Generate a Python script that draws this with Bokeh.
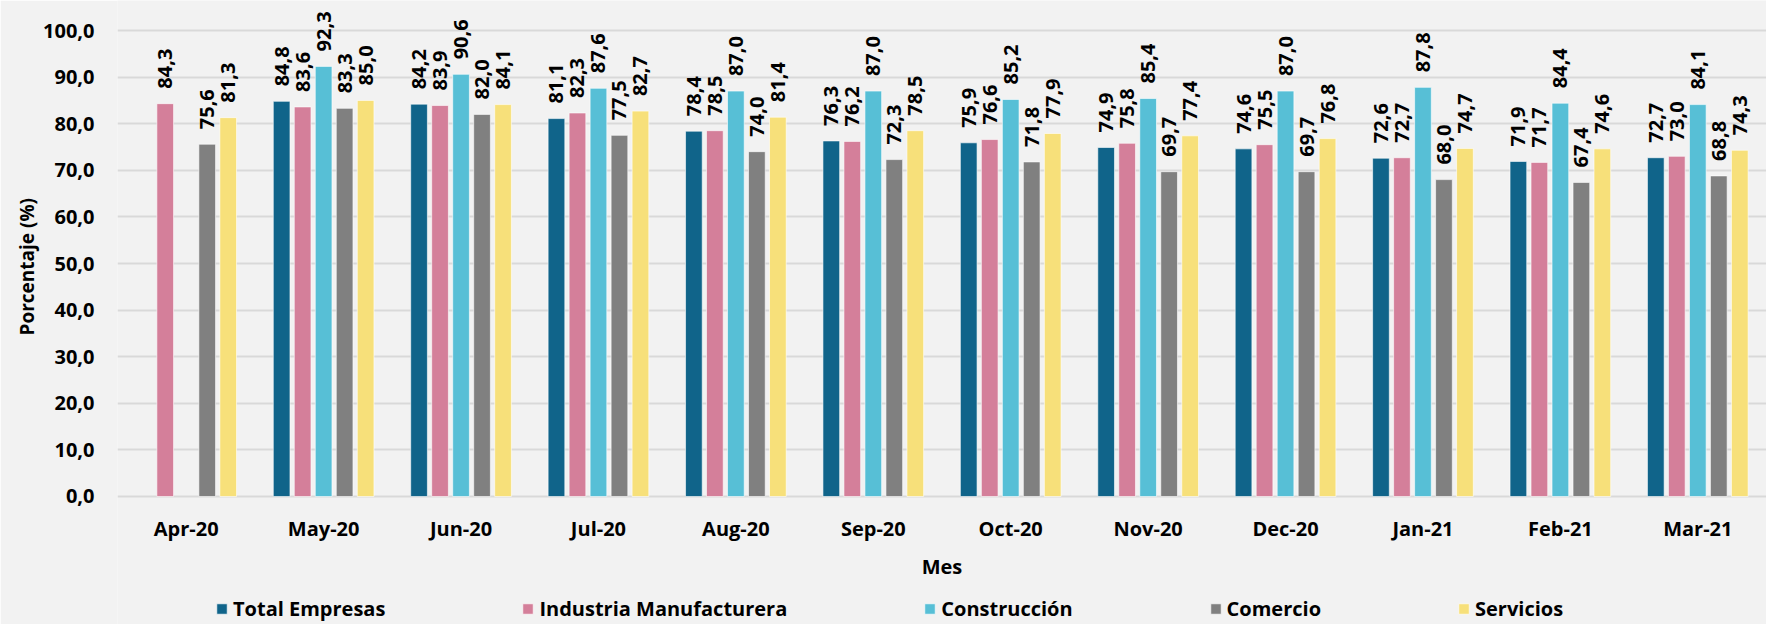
from bokeh.plotting import figure
from bokeh.models import (ColumnDataSource, FactorRange, Range1d, FixedTicker,
                          CustomJSTickFormatter, Legend, LegendItem, Title)
from bokeh.transform import dodge
from bokeh.core.properties import value
from bokeh.embed import file_html
from bokeh.resources import INLINE

months = ["Apr-20", "May-20", "Jun-20", "Jul-20", "Aug-20", "Sep-20",
          "Oct-20", "Nov-20", "Dec-20", "Jan-21", "Feb-21", "Mar-21"]
total_empresas = [None, 84.8, 84.2, 81.1, 78.4, 76.3, 75.9, 74.9, 74.6, 72.6, 71.9, 72.7]
industria = [84.3, 83.6, 83.9, 82.3, 78.5, 76.2, 76.6, 75.8, 75.5, 72.7, 71.7, 73.0]
construccion = [None, 92.3, 90.6, 87.6, 87.0, 87.0, 85.2, 85.4, 87.0, 87.8, 84.4, 84.1]
comercio = [75.6, 83.3, 82.0, 77.5, 74.0, 72.3, 71.8, 69.7, 69.7, 68.0, 67.4, 68.8]
servicios = [81.3, 85.0, 84.1, 82.7, 81.4, 78.5, 77.9, 77.4, 76.8, 74.7, 74.6, 74.3]
y_ticks = [0, 10, 20, 30, 40, 50, 60, 70, 80, 90, 100]

series_names = ["Total Empresas", "Industria Manufacturera", "Construcción",
                "Comercio", "Servicios"]
series_values = [total_empresas, industria, construccion, comercio, servicios]
series_colors = ["#10648A", "#D47F9A", "#57BFD6", "#808080", "#F7E07A"]

FONT = "Open Sans"
BG = "#F2F2F2"

FRAME_LEFT = 117
FRAME_W = 1649
FRAME_H = 624
p = figure(x_range=FactorRange(*months), y_range=Range1d(-27.47, 106.44),
           frame_width=FRAME_W, frame_height=FRAME_H, output_backend="svg",
           toolbar_location=None,
           min_border_left=FRAME_LEFT, min_border_right=0, min_border_top=0,
           min_border_bottom=0, background_fill_color=BG, border_fill_color=BG,
           outline_line_color=None)

step = 0.1528
bar_w = 0.1215
renderers = []
for i, (name, vals, color) in enumerate(zip(series_names, series_values, series_colors)):
    xs = [m for m, v in zip(months, vals) if v is not None]
    ys = [v for v in vals if v is not None]
    labels = [f"{v:.1f}".replace(".", ",") for v in ys]
    src = ColumnDataSource(dict(month=xs, val=ys, lab=labels))
    off = (i - 2) * step
    xd = dodge("month", off, range=p.x_range)
    r = p.vbar(x=xd, top="val", width=bar_w, source=src, fill_color=color,
               line_color="#FFFFFF", line_width=1, line_alpha=0.6)
    renderers.append(r)
    p.text(x=xd, y="val", text="lab", source=src, angle=90, angle_units="deg",
           text_align="left", text_baseline="middle", y_offset=-15,
           text_font=value(FONT), text_font_style="bold",
           text_font_size="20px", text_color="#000000")

# category labels and x title, drawn under the zero line
cat_src = ColumnDataSource(dict(month=months, base=[0] * len(months), lab=months))
p.text(x="month", y="base", text="lab", source=cat_src, y_offset=32,
       text_align="center", text_baseline="middle", text_font=value(FONT),
       text_font_style="bold", text_font_size="20px", text_color="#000000")
p.text(x=[len(months) / 2], y=[0], text=["Mes"], y_offset=70,
       text_align="center", text_baseline="middle", text_font=value(FONT),
       text_font_style="bold", text_font_size="20px", text_color="#000000")
p.xaxis.visible = False

p.yaxis.ticker = FixedTicker(ticks=y_ticks)
p.yaxis.formatter = CustomJSTickFormatter(code="return tick.toFixed(1).replace('.', ',');")
p.ygrid.ticker = FixedTicker(ticks=y_ticks)
p.ygrid.grid_line_color = "#D9D9D9"
p.ygrid.grid_line_width = 2
p.xgrid.grid_line_color = None

yax = p.yaxis[0]
yax.axis_line_color = None
yax.major_tick_line_color = None
yax.minor_tick_line_color = None
yax.major_label_text_font = FONT
yax.major_label_text_font_style = "bold"
yax.major_label_text_font_size = "20px"
yax.major_label_text_color = "#000000"
yax.major_label_standoff = 17

p.add_layout(Title(text="Porcentaje (%)", align="left", offset=289,
                   vertical_align="middle", standoff=0, text_font=FONT,
                   text_font_size="19px", text_font_style="bold",
                   text_color="#000000"), "left")

legend = Legend(items=[LegendItem(label=n, renderers=[r])
                       for n, r in zip(series_names, renderers)],
                orientation="horizontal", location=(98, 2),
                label_text_font=FONT, label_text_font_style="bold",
                label_text_font_size="20px", label_text_color="#000000",
                glyph_width=13, glyph_height=13, label_standoff=5,
                spacing=136, padding=0, margin=0,
                background_fill_alpha=0, border_line_color=None)
p.add_layout(legend, "center")

open("out.html", "w").write(file_html(p, INLINE))
